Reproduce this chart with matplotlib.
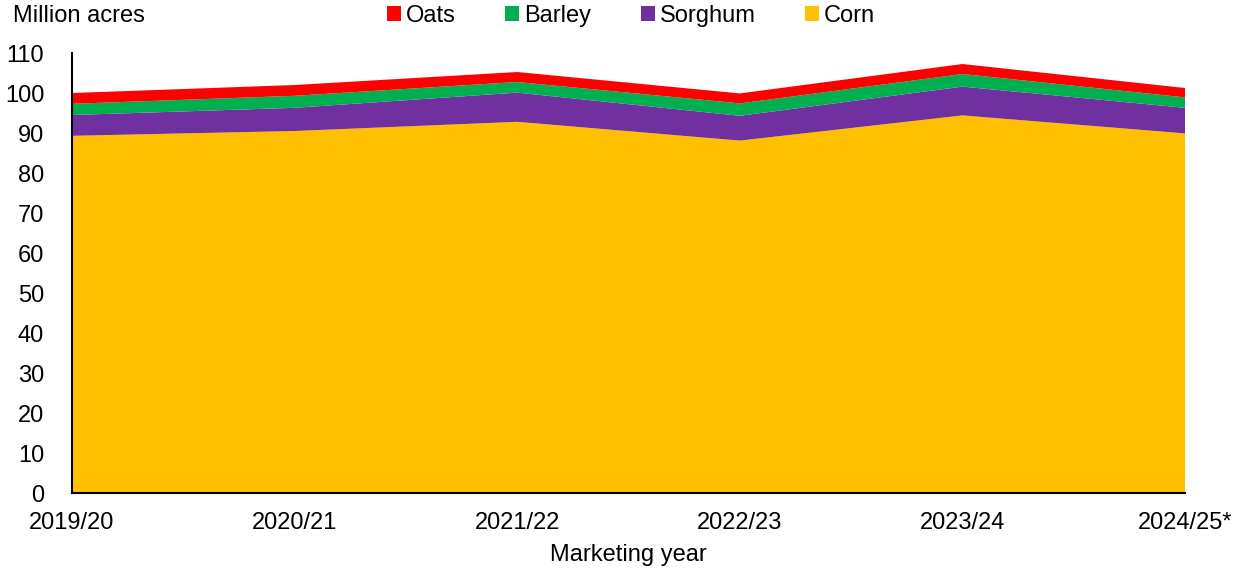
import matplotlib
matplotlib.use("Agg")
from matplotlib import pyplot as plt

plt.rcParams['font.family'] = ['Liberation Sans', 'DejaVu Sans']

years = ['2019/20', '2020/21', '2021/22', '2022/23', '2023/24', '2024/25*']
corn = [89.3, 90.5, 92.8, 88.1, 94.4, 89.9]
sorghum = [5.2, 5.8, 7.3, 6.2, 7.2, 6.4]
barley = [2.8, 3.0, 2.65, 3.1, 3.15, 2.6]
oats = [2.7, 2.7, 2.5, 2.5, 2.5, 2.35]

names = ['Corn', 'Sorghum', 'Barley', 'Oats']
colores = ['#FFC000', '#7030A0', '#00B050', '#FF0000']

fig = plt.figure(figsize=(12.44, 5.75), dpi=100)
ax = fig.add_axes([0.0579, 0.1426, 0.8947, 0.7652])

x = list(range(len(years)))
polys = ax.stackplot(x, corn, sorghum, barley, oats, colors=colores, labels=names)

ax.set_xlim(0, len(years) - 1)
ax.set_ylim(0, 110)
ax.set_yticks(range(0, 111, 10))
ax.set_xticks(x)
ax.set_xticklabels(years)
ax.tick_params(axis='both', length=0, labelsize=17)
ax.tick_params(axis='y', pad=20)
ax.tick_params(axis='x', pad=14)
ax.set_xlabel('Marketing year', fontsize=17, labelpad=7)

for s in ['top', 'right']:
    ax.spines[s].set_visible(False)
for s in ['left', 'bottom']:
    ax.spines[s].set_linewidth(1.5)
    ax.spines[s].set_color('black')

fig.text(0.0105, 0.972, 'Million acres', fontsize=17, va='center', ha='left')

handles, labels = ax.get_legend_handles_labels()
fig.legend(handles[::-1], labels[::-1], ncol=4, frameon=False, fontsize=17,
           loc='center left', bbox_to_anchor=(0.311, 0.972),
           handlelength=0.6, handleheight=0.6, handletextpad=0.2,
           columnspacing=2.1, borderaxespad=0, borderpad=0)

fig.savefig('out.png', dpi=100)
